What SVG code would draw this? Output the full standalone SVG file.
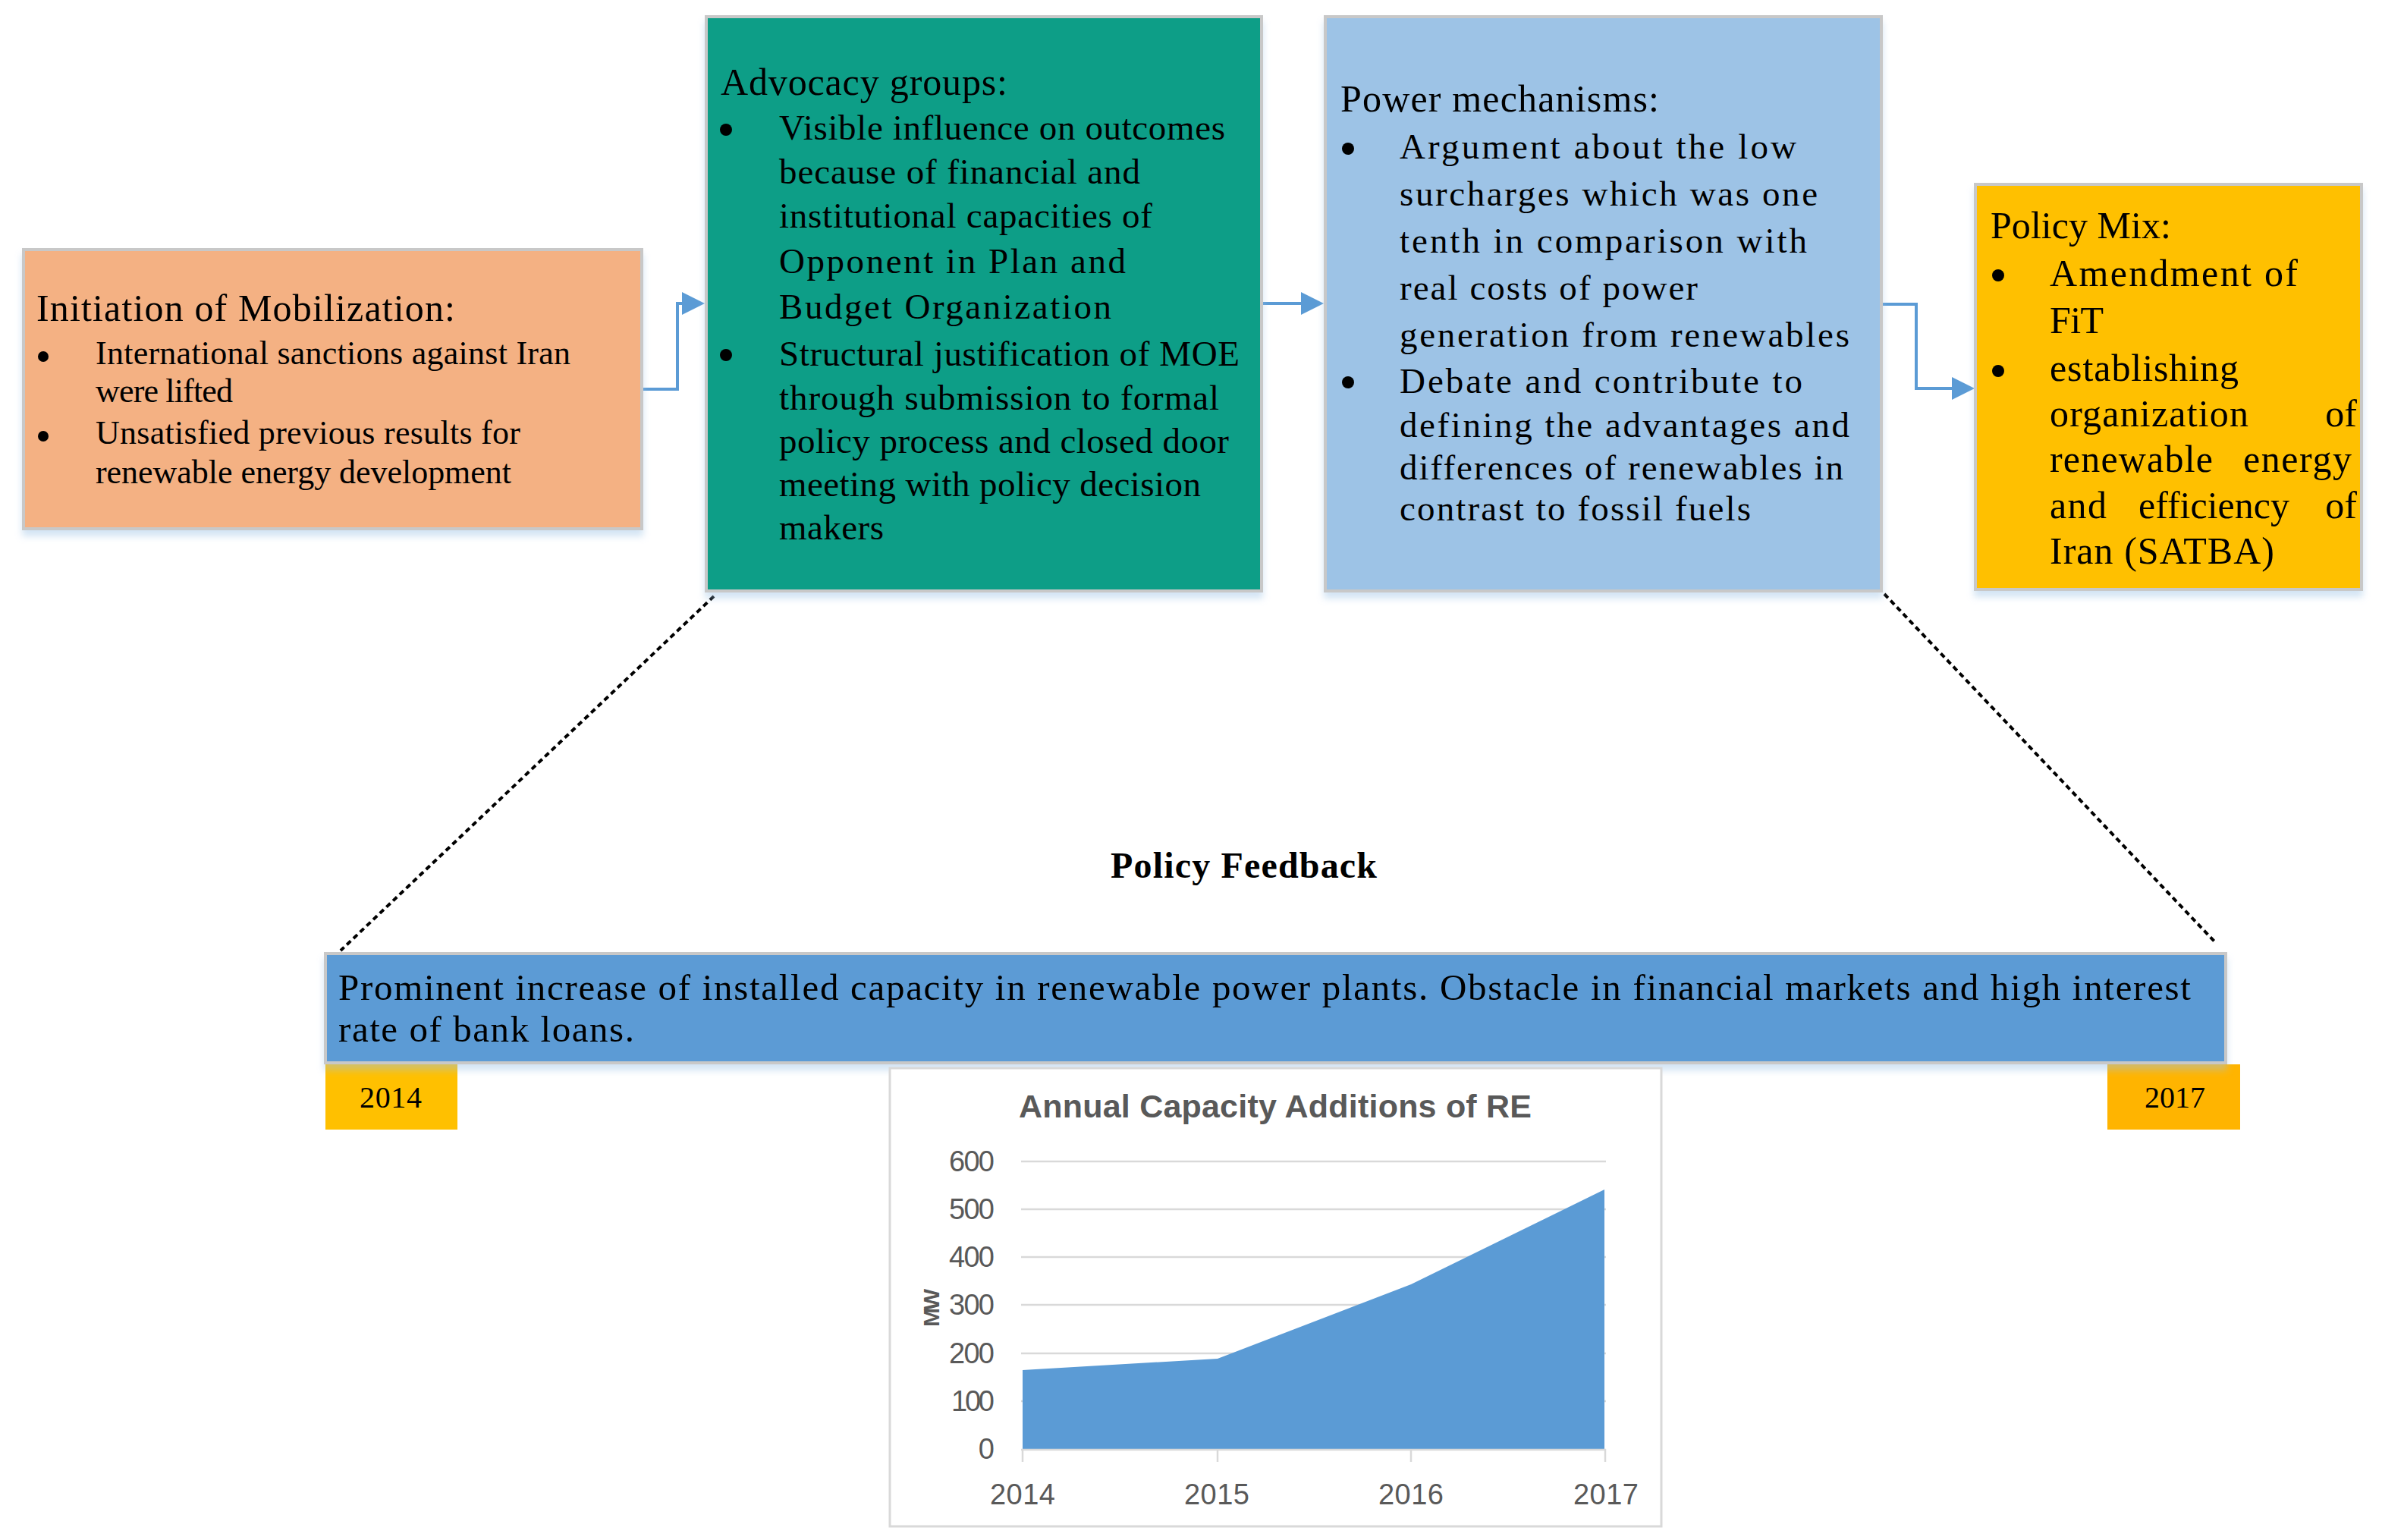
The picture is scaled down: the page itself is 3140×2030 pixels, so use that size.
<svg xmlns="http://www.w3.org/2000/svg" width="3140" height="2030" viewBox="0 0 3140 2030">
<style>
.s{font-family:"Liberation Serif","Times New Roman",serif;fill:#000}
.ti{font-size:50px}
.b1{font-size:44px}
.b{font-size:47px}
.b4{font-size:50px}
.box{stroke:#c8c8c8;stroke-width:4}
.conn{fill:none;stroke:#5b9bd5;stroke-width:4}
.dot{fill:none;stroke:#000;stroke-width:4;stroke-dasharray:7 5}
.grid{stroke:#d9d9d9;stroke-width:2.5}
.c{font-family:"Liberation Sans",Arial,sans-serif;fill:#595959}
.num{font-size:38px}
</style>
<defs>
<marker id="ah" markerUnits="userSpaceOnUse" markerWidth="30" markerHeight="30" refX="20" refY="15" orient="auto">
<path d="M0,0 L30,15 L0,30 Z" fill="#5b9bd5"/>
</marker>
<filter id="sh" x="-5%" y="-5%" width="110%" height="125%">
<feDropShadow dx="0" dy="8" stdDeviation="5" flood-color="#9dc3e6" flood-opacity="0.45"/>
</filter>
</defs>
<rect width="3140" height="2030" fill="#fff"/>

<g id="connectors">
<path class="conn" d="M848,513 H893 V400 H919" marker-end="url(#ah)"/>
<path class="conn" d="M1665,400 H1735" marker-end="url(#ah)"/>
<path class="conn" d="M2482,401 H2526 V512 H2593" marker-end="url(#ah)"/>
<path class="dot" d="M941,786 L449,1253"/>
<path class="dot" d="M2484,783 L2921,1243"/>
</g>

<g id="initiation">
<rect class="box" x="31" y="329" width="815" height="368" fill="#f4b183" filter="url(#sh)"/>
<text class="s ti" x="48" y="423" textLength="552">Initiation of Mobilization:</text>
<circle cx="57" cy="470" r="7"/>
<circle cx="57" cy="575" r="7"/>
<text class="s b1" x="126" y="480" textLength="626">International sanctions against Iran</text>
<text class="s b1" x="126" y="530" textLength="181">were lifted</text>
<text class="s b1" x="126" y="585" textLength="560">Unsatisfied previous results for</text>
<text class="s b1" x="126" y="637" textLength="548">renewable energy development</text>
</g>

<g id="advocacy">
<rect class="box" x="931" y="22" width="732" height="757" fill="#0e9e87" filter="url(#sh)"/>
<text class="s ti" x="950" y="125" textLength="378">Advocacy groups:</text>
<circle cx="957" cy="171" r="8"/>
<circle cx="957" cy="468" r="8"/>
<text class="s b" x="1027" y="184" textLength="588">Visible influence on outcomes</text>
<text class="s b" x="1027" y="242" textLength="476">because of financial and</text>
<text class="s b" x="1027" y="300" textLength="492">institutional capacities of</text>
<text class="s b" x="1027" y="360" textLength="457">Opponent in Plan and</text>
<text class="s b" x="1027" y="420" textLength="438">Budget Organization</text>
<text class="s b" x="1027" y="482" textLength="607">Structural justification of MOE</text>
<text class="s b" x="1027" y="540" textLength="580">through submission to formal</text>
<text class="s b" x="1027" y="597" textLength="593">policy process and closed door</text>
<text class="s b" x="1027" y="654" textLength="556">meeting with policy decision</text>
<text class="s b" x="1027" y="711" textLength="138">makers</text>
</g>

<g id="power">
<rect class="box" x="1747" y="22" width="733" height="757" fill="#9dc3e6" filter="url(#sh)"/>
<text class="s ti" x="1767" y="147" textLength="420">Power mechanisms:</text>
<circle cx="1777" cy="196" r="8"/>
<circle cx="1777" cy="504" r="8"/>
<text class="s b" x="1845" y="209" textLength="523">Argument about the low</text>
<text class="s b" x="1845" y="271" textLength="551">surcharges which was one</text>
<text class="s b" x="1845" y="333" textLength="537">tenth in comparison with</text>
<text class="s b" x="1845" y="395" textLength="393">real costs of power</text>
<text class="s b" x="1845" y="457" textLength="593">generation from renewables</text>
<text class="s b" x="1845" y="518" textLength="531">Debate and contribute to</text>
<text class="s b" x="1845" y="576" textLength="593">defining the advantages and</text>
<text class="s b" x="1845" y="632" textLength="585">differences of renewables in</text>
<text class="s b" x="1845" y="686" textLength="463">contrast to fossil fuels</text>
</g>

<g id="policymix">
<rect class="box" x="2604" y="243" width="509" height="534" fill="#ffc000" filter="url(#sh)"/>
<text class="s ti" x="2624" y="314" textLength="238">Policy Mix:</text>
<circle cx="2634" cy="363" r="8"/>
<circle cx="2634" cy="489" r="8"/>
<text class="s b4" x="2702" y="377" textLength="327">Amendment of</text>
<text class="s b4" x="2702" y="439" textLength="71">FiT</text>
<text class="s b4" x="2702" y="502" textLength="249">establishing</text>
<text class="s b4" x="2702" y="562" textLength="262">organization</text>
<text class="s b4" x="3107" y="562" text-anchor="end">of</text>
<text class="s b4" x="2702" y="622" textLength="215">renewable</text>
<text class="s b4" x="2957" y="622" textLength="143">energy</text>
<text class="s b4" x="2702" y="683" textLength="75">and</text>
<text class="s b4" x="2819" y="683" textLength="199">efficiency</text>
<text class="s b4" x="3107" y="683" text-anchor="end">of</text>
<text class="s b4" x="2702" y="743" textLength="296">Iran (SATBA)</text>
</g>

<g id="policyfeedback-title">
<text class="s" x="1464" y="1157" font-size="48" font-weight="bold" textLength="351">Policy Feedback</text>
</g>

<g id="year2014">
<rect x="429" y="1403" width="174" height="86" fill="#ffc000"/>
<text class="s" x="474" y="1460" font-size="40" textLength="82">2014</text>
</g>
<g id="year2017">
<rect x="2778" y="1403" width="175" height="86" fill="#ffb400"/>
<text class="s" x="2827" y="1460" font-size="40" textLength="80">2017</text>
</g>

<g id="feedback">
<rect class="box" x="429" y="1257" width="2505" height="144" fill="#5b9bd5" filter="url(#sh)"/>
<text class="s" x="446" y="1318" font-size="49" textLength="2442">Prominent increase of installed capacity in renewable power plants. Obstacle in financial markets and high interest</text>
<text class="s" x="446" y="1373" font-size="49" textLength="390">rate of bank loans.</text>
</g>

<g id="chart">
<rect x="1173" y="1408" width="1017" height="604" fill="#fff" stroke="#d9d9d9" stroke-width="3"/>
<text class="c" x="1681" y="1473" font-size="43" font-weight="bold" text-anchor="middle" textLength="676">Annual Capacity Additions of RE</text>
<g>
<line class="grid" x1="1346" y1="1531" x2="2117" y2="1531"/>
<line class="grid" x1="1346" y1="1594" x2="2117" y2="1594"/>
<line class="grid" x1="1346" y1="1657" x2="2117" y2="1657"/>
<line class="grid" x1="1346" y1="1720" x2="2117" y2="1720"/>
<line class="grid" x1="1346" y1="1784" x2="2117" y2="1784"/>
<line class="grid" x1="1346" y1="1847" x2="2117" y2="1847"/>
</g>
<path d="M1348,1910 L1348,1806 L1605,1791 L1860,1693 L2115,1568 L2115,1910 Z" fill="#5b9bd5"/>
<line class="grid" x1="1346" y1="1911" x2="2117" y2="1911"/>
<line class="grid" x1="1348" y1="1910" x2="1348" y2="1927"/>
<line class="grid" x1="1605" y1="1910" x2="1605" y2="1927"/>
<line class="grid" x1="1860" y1="1910" x2="1860" y2="1927"/>
<line class="grid" x1="2116" y1="1910" x2="2116" y2="1927"/>
<g text-anchor="end">
<text class="c num" x="1311" y="1544" textLength="60">600</text>
<text class="c num" x="1311" y="1607" textLength="60">500</text>
<text class="c num" x="1311" y="1670" textLength="60">400</text>
<text class="c num" x="1311" y="1733" textLength="60">300</text>
<text class="c num" x="1311" y="1797" textLength="60">200</text>
<text class="c num" x="1311" y="1860" textLength="57">100</text>
<text class="c num" x="1311" y="1923" textLength="19">0</text>
</g>
<g text-anchor="middle">
<text class="c num" x="1348" y="1983" font-size="40" textLength="86">2014</text>
<text class="c num" x="1604" y="1983" font-size="40" textLength="86">2015</text>
<text class="c num" x="1860" y="1983" font-size="40" textLength="86">2016</text>
<text class="c num" x="2117" y="1983" font-size="40" textLength="86">2017</text>
</g>
<text class="c" transform="translate(1238,1724) rotate(-90)" font-size="30" font-weight="bold" text-anchor="middle" textLength="50">MW</text>
</g>
</svg>
